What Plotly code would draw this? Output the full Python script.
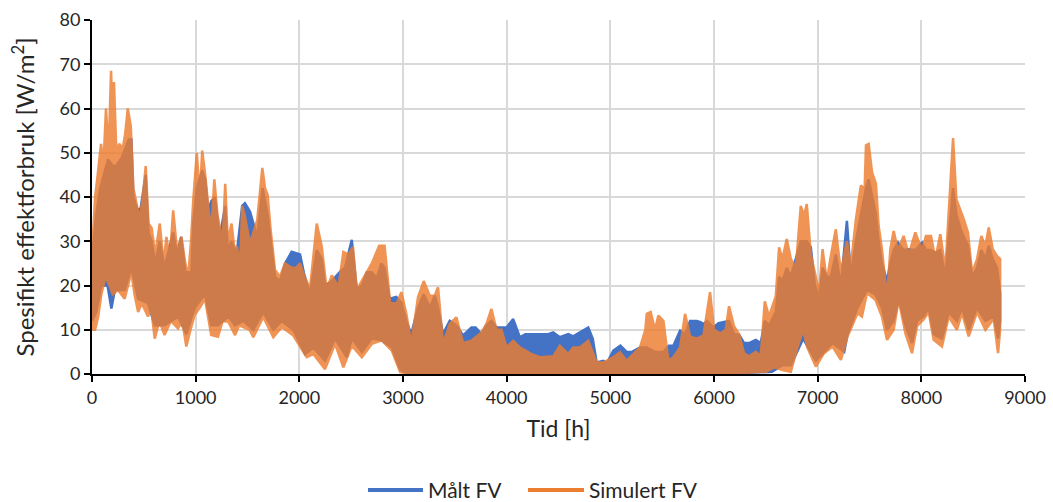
import plotly.graph_objects as go

# ---- Data (hours, W/m2) ----
# Simulated (orange) upper envelope
sim_hi_t = [0, 30, 55, 87, 110, 135, 160, 184, 198, 212, 235, 262, 296, 319, 345, 374, 399, 430, 460, 490,
            518, 545, 575, 610, 654, 690, 718, 750, 783, 820, 863, 900, 928, 955, 976, 1011, 1040, 1063, 1092,
            1121, 1150, 1180, 1210, 1233, 1260, 1285, 1310, 1346, 1375, 1395, 1430, 1449, 1475, 1524, 1594,
            1643, 1669, 1694, 1723, 1765, 1813, 1862, 1926, 1970, 2007, 2049, 2103, 2168, 2216, 2264, 2313,
            2377, 2425, 2474, 2517, 2554, 2603, 2651, 2699, 2770, 2822, 2876, 2940, 2984, 3032, 3080, 3145,
            3200, 3258, 3306, 3338, 3386, 3451, 3515, 3580, 3660, 3757, 3805, 3853, 3902, 3950, 3998, 4063,
            4127, 4240, 4320, 4449, 4513, 4594, 4642, 4707, 4787, 4868, 4932, 5029, 5093, 5157, 5222, 5286,
            5338, 5351, 5389, 5431, 5463, 5512, 5560, 5608, 5673, 5721, 5769, 5834, 5898, 5962, 6000, 6064,
            6113, 6145, 6193, 6242, 6290, 6338, 6403, 6451, 6490, 6531, 6596, 6628, 6660, 6702, 6741, 6789,
            6837, 6870, 6895, 6934, 6973, 7014, 7047, 7089, 7127, 7175, 7224, 7282, 7320, 7369, 7417, 7453,
            7466, 7492, 7524, 7562, 7588, 7620, 7669, 7701, 7733, 7775, 7829, 7878, 7942, 8006, 8045, 8093,
            8135, 8183, 8232, 8270, 8306, 8338, 8376, 8409, 8450, 8489, 8537, 8579, 8618, 8650, 8689, 8730, 8760]
sim_hi_v = [27, 40, 45, 52, 47, 60, 50, 68.5, 58, 66, 50, 52, 51, 54, 60, 56, 42, 38, 35, 40,
            47, 34, 33, 27, 34, 25, 31, 26, 37, 28, 31, 25, 22, 30, 39, 50, 40, 50.5, 45,
            38, 32, 44, 36, 33, 30, 43, 30, 34, 28, 29, 25, 38, 35.6, 29.5, 34.8,
            46.6, 42, 40.5, 32.6, 23.5, 22, 25, 24, 24, 25, 22, 19.3, 34, 28.8, 19, 22.3,
            19.7, 27.6, 27, 28.7, 19, 21, 23, 25, 29, 29, 16, 16, 18.5, 13.6, 6.8, 17.4,
            21, 17.7, 17.7, 19.6, 6.8, 11.3, 12.8, 7, 7.5, 9.4, 11.3, 14.7, 10, 10, 6, 7.5,
            6, 4.5, 3.8, 4, 6.4, 4.5, 6, 6, 7.5, 2.6, 2.6, 3.8, 4.9, 3, 4.5, 6,
            10, 13.6, 14, 10, 13.2, 12, 3, 3.8, 6, 13.6, 8.5, 8, 8.7, 18.5, 10, 9.2,
            10, 15.3, 10.8, 9, 4.7, 4, 5, 4, 16.4, 13, 17.6, 28.6, 26, 30.5, 26, 24,
            38, 35.8, 38.4, 27, 22.9, 18.3, 28.2, 21, 26.7, 32.7, 22.9, 30, 24.4, 35, 42.6, 41.8,
            51.7, 52, 45.6, 43, 33.5, 28.2, 17, 28.2, 32.3, 28, 31.2, 27, 32, 28, 31.2, 31.2,
            26, 31.6, 23.6, 38.5, 53.3, 39.5, 37.3, 35, 32, 22.9, 25.9, 31.2, 28.9, 33.1, 28.2, 26.7, 26]

# Simulated (orange) lower envelope
sim_lo_t = [0, 30, 60, 90, 130, 170, 200, 250, 315, 380, 410, 445, 480, 540, 570, 605, 650, 700, 760, 830,
            870, 910, 950, 990, 1040, 1090, 1150, 1215, 1260, 1315, 1380, 1420, 1460, 1520, 1556, 1652, 1749,
            1830, 1942, 2071, 2135, 2248, 2345, 2425, 2506, 2603, 2699, 2796, 2892, 2973, 3100, 3500, 4000,
            4500, 5000, 5500, 6000, 6500, 6580, 6660, 6741, 6805, 6860, 6900, 6982, 7062, 7143, 7224, 7288,
            7385, 7427, 7476, 7556, 7620, 7669, 7733, 7782, 7846, 7910, 7958, 8022, 8071, 8119, 8199, 8264,
            8344, 8392, 8457, 8537, 8618, 8698, 8740, 8760]
sim_lo_v = [10, 10, 13, 18, 22, 20, 18, 19, 17, 23, 18, 14, 16, 13, 15, 8, 12, 8.8, 12, 10.3,
            12, 6.2, 10, 13.3, 15, 17, 8.8, 8.4, 12, 11.8, 8.8, 11, 10.5, 10, 8.3, 12.9, 8.3,
            10.6, 8.7, 3.8, 4.5, 1.1, 6.8, 1.5, 6.4, 3.8, 6.8, 7.6, 5.3, 0.4, 0, 0, 0,
            0, 0, 0, 0, 0.5, 1.5, 0.9, 0.5, 6, 10, 6, 1.7, 4.7, 6.2, 3.2, 8.5,
            13.8, 13, 18.3, 16.8, 13, 7.7, 10, 16.8, 9.2, 4.7, 10.8, 12.3, 14, 7.7, 6.2, 13,
            10, 13.8, 8.5, 14, 10, 12.5, 4.7, 10]

# Measured (blue) upper envelope
meas_hi_t = [0, 40, 80, 155, 200, 230, 290, 354, 380, 399, 440, 470, 518, 545, 575, 610, 654, 700, 783, 820,
             860, 900, 960, 976, 1011, 1063, 1092, 1121, 1150, 1185, 1233, 1285, 1310, 1346, 1395, 1449, 1475,
             1524, 1594, 1645, 1694, 1716, 1765, 1813, 1862, 1926, 2007, 2045, 2103, 2168, 2216, 2248, 2313,
             2409, 2440, 2506, 2554, 2603, 2651, 2699, 2747, 2790, 2822, 2871, 2935, 2984, 3032, 3080, 3145,
             3200, 3258, 3306, 3338, 3386, 3451, 3515, 3580, 3660, 3700, 3757, 3805, 3853, 3902, 3950, 3998,
             4063, 4127, 4180, 4240, 4320, 4400, 4449, 4513, 4594, 4642, 4707, 4787, 4830, 4868, 4932, 4968,
             5029, 5097, 5157, 5209, 5286, 5306, 5351, 5431, 5512, 5564, 5608, 5673, 5721, 5769, 5834, 5870,
             5898, 5934, 5995, 6043, 6113, 6145, 6193, 6242, 6290, 6338, 6403, 6451, 6490, 6531, 6596, 6628,
             6660, 6702, 6741, 6789, 6837, 6870, 6895, 6934, 6973, 7014, 7047, 7089, 7127, 7175, 7224, 7282,
             7320, 7369, 7417, 7466, 7492, 7524, 7562, 7588, 7620, 7669, 7701, 7733, 7775, 7829, 7878, 7942,
             8006, 8045, 8093, 8135, 8183, 8232, 8270, 8306, 8338, 8376, 8409, 8450, 8489, 8537, 8579, 8618,
             8650, 8689, 8730, 8760]
meas_hi_v = [26, 36, 42, 48.5, 47, 47, 49, 53, 53, 40, 37, 37.5, 45, 32, 30, 25, 30, 24, 32, 27,
             31, 23, 23, 34, 42, 46, 44, 37, 39, 40, 31, 38, 28, 30, 27, 38, 38.6,
             36.7, 31, 42, 36, 31.8, 22, 21, 25, 27.6, 27, 22.7, 18, 28, 26, 20, 21,
             23.5, 24, 30.3, 19, 20, 23, 23, 21.6, 25, 24, 17, 17.4, 16, 12, 9, 15,
             18, 15, 17.7, 15, 9, 12, 11, 8.7, 10.5, 10.5, 9, 11, 12, 10.5, 10.5, 10.5,
             12.4, 8.3, 9, 9, 9, 9, 9.4, 8.3, 9, 8.5, 9.4, 10.5, 8, 2.6, 3, 2.5,
             5.3, 6.4, 5, 5, 6, 6, 6, 5, 5, 6.4, 6.4, 9.8, 9, 12, 12, 11.7,
             11.3, 12, 10.5, 11.5, 11.9, 12, 9, 8.9, 7, 7, 7.7, 7, 12, 11, 14, 22,
             21, 24, 22, 26, 30, 30, 30, 28.6, 20, 17, 24, 22, 22, 27, 20, 34.6,
             22, 30, 36, 42, 44, 40, 36, 30, 25, 21, 25, 28, 29.7, 28, 28.2, 28,
             29.7, 28, 28, 27.4, 28, 22, 32, 42, 36, 33, 31, 29, 22, 24, 28, 26,
             29, 26, 24, 18.3]

# Measured (blue) lower envelope
meas_lo_t = [0, 40, 90, 150, 187, 220, 315, 380, 445, 540, 605, 700, 830, 910, 990, 1090, 1150, 1215, 1315,
             1380, 1460, 1556, 1652, 1749, 1830, 1942, 2055, 2135, 2248, 2345, 2457, 2506, 2603, 2699, 2796,
             2892, 2973, 3050, 3500, 4000, 4500, 5000, 5500, 6000, 6560, 6660, 6741, 6860, 6982, 7062, 7143,
             7256, 7288, 7385, 7476, 7556, 7620, 7669, 7733, 7782, 7846, 7910, 7958, 8022, 8071, 8119, 8199,
             8264, 8344, 8392, 8457, 8537, 8618, 8698, 8740, 8760]
meas_lo_v = [12, 14, 20, 20, 14.8, 19, 19, 24, 17, 16, 11, 11, 13, 9, 15, 18, 11, 11, 13,
             11, 12, 10, 14, 10, 12, 10, 4.5, 6, 3, 8, 3.8, 8, 5, 8, 7.6,
             6, 1, 0, 0, 0, 0, 0, 0, 0, 0.5, 2, 2, 8, 3, 5, 7,
             5, 9, 15, 19, 18, 15, 10, 12, 17, 11, 7, 12, 13, 15, 9, 8,
             14, 12, 15, 10, 15, 12, 13, 8, 12]

series_names = ["Målt FV", "Simulert FV"]
blue = "#4472C4"
orange = "#ED7D31"
font_fam = "Lato, 'Open Sans', sans-serif"


def band(hi_t, hi_v, lo_t, lo_v):
    xs = list(hi_t) + list(reversed(lo_t))
    ys = list(hi_v) + list(reversed(lo_v))
    return xs, ys


fig = go.Figure()

bx, by = band(meas_hi_t, meas_hi_v, meas_lo_t, meas_lo_v)
fig.add_trace(go.Scatter(x=bx, y=by, mode="lines", fill="toself", fillcolor=blue,
                         line=dict(color=blue, width=2.5), name=series_names[0],
                         showlegend=False, hoverinfo="skip"))

ox, oy = band(sim_hi_t, sim_hi_v, sim_lo_t, sim_lo_v)
fig.add_trace(go.Scatter(x=ox, y=oy, mode="lines", fill="toself", fillcolor=orange,
                         line=dict(color=orange, width=2.5), opacity=0.82, name=series_names[1],
                         showlegend=False, hoverinfo="skip"))

# custom legend (long line samples as in the reference)
legend_items = [(series_names[0], blue, 368, 423), (series_names[1], orange, 528, 584)]
W, H = 1053, 502
L, R, T, B = 92, 28, 20, 128
pw, ph = W - L - R, H - T - B
shapes, annotations = [], []
leg_y = (H - B - 490) / ph
for name, col, x0, x1 in legend_items:
    shapes.append(dict(type="line", xref="paper", yref="paper",
                       x0=(x0 - L) / pw, x1=(x1 - L) / pw, y0=leg_y, y1=leg_y,
                       line=dict(color=col, width=4)))
    annotations.append(dict(text=name, xref="paper", yref="paper", x=(x1 + 3 - L) / pw, y=leg_y,
                            xanchor="left", yanchor="middle", showarrow=False,
                            font=dict(family=font_fam, size=21, color="#262626")))

fig.update_layout(
    width=W, height=H,
    margin=dict(l=L, r=R, t=T, b=B, autoexpand=False),
    paper_bgcolor="white", plot_bgcolor="white",
    font=dict(family=font_fam, size=18, color="#262626"),
    showlegend=False,
    shapes=shapes, annotations=annotations,
)
fig.update_xaxes(range=[0, 9000], dtick=1000, tick0=0,
                 showgrid=True, gridcolor="#D9D9D9", gridwidth=1.5,
                 showline=True, linecolor="black", linewidth=2,
                 ticks="outside", ticklen=6, tickwidth=2, tickcolor="black",
                 zeroline=False, automargin=False,
                 title=dict(text="Tid [h]", font=dict(size=23), standoff=14))
fig.update_yaxes(range=[0, 80], dtick=10, tick0=0,
                 showgrid=True, gridcolor="#D9D9D9", gridwidth=1.5,
                 showline=True, linecolor="black", linewidth=2,
                 ticks="outside", ticklen=6, tickwidth=2, tickcolor="black",
                 zeroline=False, automargin=False,
                 title=dict(text="Spesifikt effektforbruk [W/m<sup>2</sup>]", font=dict(size=24), standoff=18))

fig.write_html("out.html")
